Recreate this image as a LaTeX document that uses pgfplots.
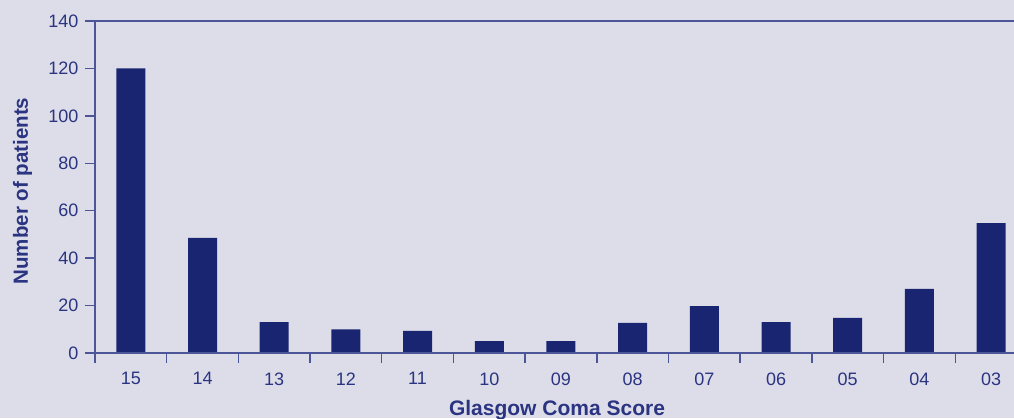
\documentclass[border=0pt]{standalone}
\usepackage{pgfplots}
\pgfplotsset{compat=1.18}
\usepackage{fontspec}
\setmainfont{Liberation Sans}
\definecolor{bg}{HTML}{DDDDEA}
\definecolor{barc}{HTML}{1A2571}
\definecolor{axl}{HTML}{4B5597}
\definecolor{txt}{HTML}{2A3480}
\begin{document}
\begin{tikzpicture}
\fill[bg] (0,0) rectangle (1014pt,418pt);
\useasboundingbox (0,0) rectangle (1014pt,418pt);
\begin{axis}[
 at={(95pt,65pt)}, anchor=south west,
 scale only axis, width=919pt, height=332pt,
 xmin=-0.5, xmax=12.32, ymin=0, ymax=140,
 axis line style={draw=none},
 tick align=outside,
 xtick pos=bottom, ytick pos=left,
 major tick length=10pt,
 ytick={0,20,...,140},
 xtick={0,...,12},
 xticklabels={15,14,13,12,11,10,09,08,07,06,05,04,03},
 xtick style={draw=none},
 ytick style={draw=axl, line width=1.4pt},
 extra x ticks={-0.5,0.5,...,11.5},
 extra x tick labels={},
 extra x tick style={xtick style={draw=axl, line width=1.4pt}},
 ticklabel style={font=\fontsize{18}{20}\selectfont, text=txt},
 xticklabel style={yshift=-6pt},
 yticklabel style={xshift=-3pt},
 /pgf/number format/assume math mode=true,
 clip=false,
 after end axis/.code={
   \draw[axl, line width=1.6pt] (rel axis cs:0,0) -- (rel axis cs:0,1) -- (rel axis cs:1,1);
   \draw[axl, line width=1.6pt] (rel axis cs:0,0) -- (rel axis cs:1,0);
 },
]
\addplot[ybar, bar width=29pt, fill=barc, draw=none] coordinates {
 (0,120) (1,48.5) (2,13) (3,10) (4,9.3) (5,5) (6,5) (7,12.7) (8,19.8) (9,13) (10,14.8) (11,27) (12,54.8)
};
\end{axis}
\node[anchor=base, font=\bfseries\fontsize{21}{24}\selectfont, text=txt] at (557pt,3pt) {Glasgow Coma Score};
\node[anchor=base, rotate=90, font=\bfseries\fontsize{20.5}{24}\selectfont, text=txt] at (28pt,227pt) {Number of patients};
\end{tikzpicture}
\end{document}
